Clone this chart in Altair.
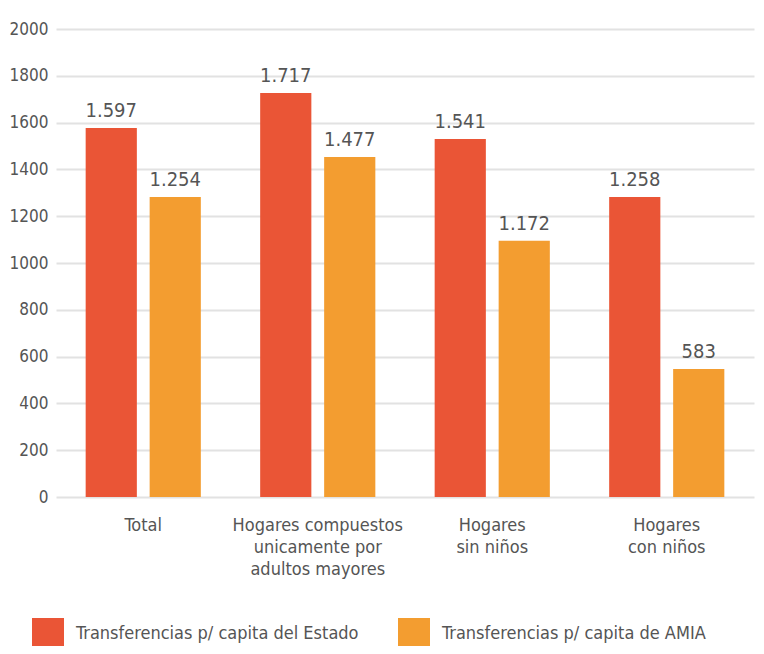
import altair as alt
import pandas as pd

categories = ["Total", "Hogares compuestos|unicamente por|adultos mayores", "Hogares|sin niños", "Hogares|con niños"]
series = ["Transferencias p/ capita del Estado", "Transferencias p/ capita de AMIA"]
estado = [1577, 1726, 1530, 1282]
amia = [1282, 1453, 1095, 547]
labels_estado = ["1.597", "1.717", "1.541", "1.258"]
labels_amia = ["1.254", "1.477", "1.172", "583"]
colors = ["#EA5536", "#F39D30"]

rows = []
for i, c in enumerate(categories):
    rows.append({"cat": c, "serie": series[0], "valor": estado[i], "etiqueta": labels_estado[i]})
    rows.append({"cat": c, "serie": series[1], "valor": amia[i], "etiqueta": labels_amia[i]})
df = pd.DataFrame(rows)

FONT = "DejaVu Sans Condensed, Roboto, sans-serif"
GREY = "#555555"

x = alt.X("cat:N", sort=categories, title=None,
          scale=alt.Scale(range=[-8, 690], paddingInner=0.34, paddingOuter=0.17),
          axis=alt.Axis(labelAngle=0, domain=False, ticks=False, labelPadding=19,
                        labelFontSize=18, labelLineHeight=22, labelColor=GREY, labelFont=FONT,
                        labelLimit=0, labelExpr="split(datum.label, '|')", labelBaseline="top"))
xo = alt.XOffset("serie:N", sort=series, scale=alt.Scale(paddingInner=0.2, paddingOuter=0))
y = alt.Y("valor:Q", title=None,
          scale=alt.Scale(domain=[0, 2000], nice=False),
          axis=alt.Axis(values=list(range(0, 2001, 200)), format="d", domain=False, ticks=False,
                        labelPadding=16, labelFontSize=17, labelColor=GREY, labelFont=FONT,
                        gridColor="#e2e2e2", gridWidth=2))

bars = alt.Chart(df).mark_bar().encode(
    x=x, xOffset=xo, y=y,
    color=alt.Color("serie:N", sort=series, scale=alt.Scale(domain=series, range=colors),
                    legend=alt.Legend(title=None, orient="none", legendX=-32, legendY=589,
                                      direction="horizontal", symbolType="square",
                                      symbolSize=1024, symbolStrokeWidth=0, symbolOpacity=1,
                                      labelFontSize=18, labelColor=GREY, labelFont=FONT,
                                      labelLimit=0, labelOffset=12, columnPadding=39)),
)

text = alt.Chart(df).mark_text(baseline="alphabetic", dy=-11, fontSize=20, color=GREY, font=FONT).encode(
    x=x, xOffset=xo, y=y, text="etiqueta:N"
)

chart = alt.layer(bars, text).properties(
    width=692, height=468,
    autosize=alt.AutoSizeParams(type="none"),
    padding={"left": 56, "top": 21, "right": 0, "bottom": 149},
).configure_view(stroke=None)

chart.save("out.html", embed_options={"renderer": "svg", "actions": False})
